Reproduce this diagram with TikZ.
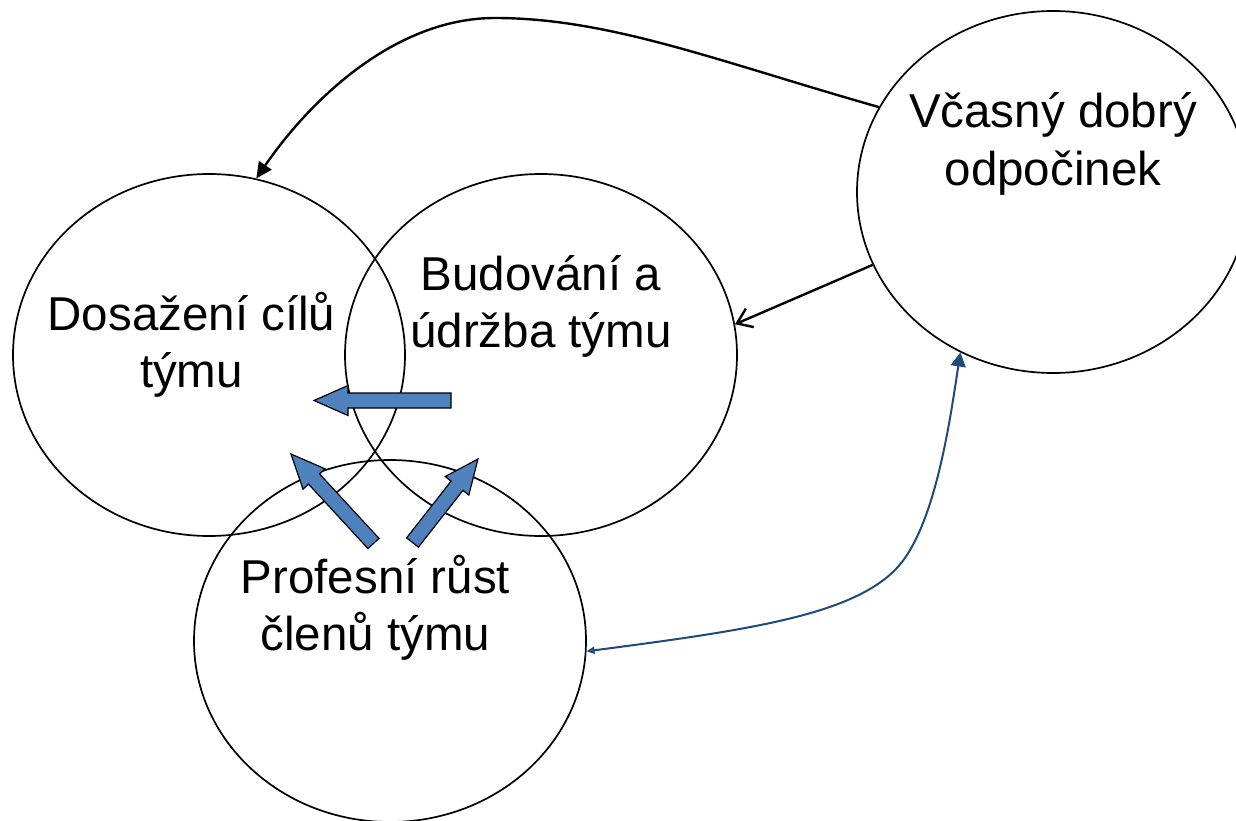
\documentclass[tikz,border=0pt]{standalone}
\usepackage{fontspec}
\setmainfont{Liberation Sans}
\usetikzlibrary{shapes.geometric,arrows.meta,calc}
\definecolor{accblue}{HTML}{4F81BD}
\definecolor{darkblue}{HTML}{1F497D}
\tikzset{
  bubble/.style={ellipse, draw=black, line width=1.7pt, minimum width=392pt, minimum height=362pt, inner sep=0pt},
  txt/.style={inner sep=0pt, anchor=base, font=\fontsize{47.5}{57.5}\selectfont},
  blk/.style={fill=accblue, draw=black, line width=1.2pt, line join=miter},
  conn/.style={draw=black, line width=2.4pt},
  blueconn/.style={draw=darkblue, line width=2pt},
}
\newcommand{\twolines}[2]{\begin{tabular}[t]{@{}c@{}}#1\\#2\end{tabular}}
\newcommand{\blockarr}[2]{%
  \coordinate (#1h) at ($(#2)!34pt!(#1)$);
  \filldraw[blk] ($(#1)!7.5pt!90:(#2)$) -- ($(#1h)!7.5pt!90:(#2)$) -- ($(#1h)!15pt!90:(#2)$) -- (#2)
    -- ($(#1h)!15pt!-90:(#2)$) -- ($(#1h)!7.5pt!-90:(#2)$) -- ($(#1)!7.5pt!-90:(#2)$) -- cycle;
}
\begin{document}
\begin{tikzpicture}[x=1pt,y=-1pt]
\useasboundingbox (0,0) rectangle (1236,821);
\fill[white] (0,0) rectangle (1236,821);
\clip (0,0) rectangle (1236,821);
% circles
\node[bubble] (d) at (209,355) {};
\node[bubble] (b) at (541,355) {};
\node[bubble] (p) at (390,641) {};
\node[bubble] (v) at (1053,192) {};
% texts
\node[txt] (dt) at (191.5,330) {\twolines{Dosažení cílů}{týmu}};
\node[txt] (bt) at (541,290) {\twolines{Budování a}{údržba týmu}};
\node[txt] (vt) at (1053,128) {\twolines{Včasný dobrý}{odpočinek}};
\node[txt] (pt) at (375.5,593) {\twolines{Profesní růst}{členů týmu}};
% block arrows
\coordinate (h1b) at (451,400.5); \coordinate (h1t) at (314,400.5);
\coordinate (h2b) at (373.5,543.5); \coordinate (h2t) at (291,454);
\coordinate (h3b) at (412.5,542.5); \coordinate (h3t) at (478,459);
\blockarr{h1b}{h1t}
\blockarr{h2b}{h2t}
\blockarr{h3b}{h3t}
% connectors
\draw[conn, -{Triangle[length=16pt,width=15pt]}] (v.154) .. controls (720,62) and (610,18) .. (495,18) .. controls (395,18) and (310,100) .. (d.75);
\draw[conn, -{Straight Barb[length=14pt,width=20pt]}] (v.202) -- (b.9);
\draw[blueconn, {Triangle[open,length=8pt,width=7pt]}-{Triangle[length=14pt,width=15pt]}] (p.-3) .. controls (750,630) and (850,615) .. (895,570) .. controls (935,530) and (950,420) .. (v.240);
\end{tikzpicture}
\end{document}
